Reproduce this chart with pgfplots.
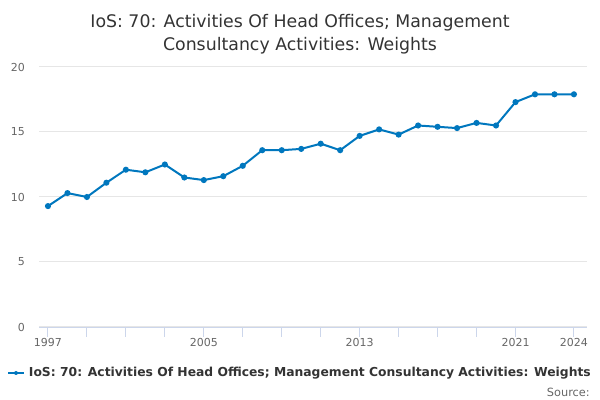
\documentclass[border=0pt]{standalone}
\usepackage{pgfplots}
\pgfplotsset{compat=1.18}
\usepackage{fontspec}
\setmainfont{DejaVu Sans}
\definecolor{series}{RGB}{0,119,190}
\definecolor{txt}{RGB}{51,51,51}
\definecolor{tick}{RGB}{102,102,102}
\definecolor{gridc}{RGB}{230,230,230}
\definecolor{axc}{RGB}{204,214,235}
\begin{document}
\begin{tikzpicture}[x=1pt,y=1pt]
\path[use as bounding box] (0,0) rectangle (450,300);
\begin{axis}[
  at={(29.25pt,54.75pt)}, anchor=south west,
  scale only axis, width=411pt, height=195pt,
  xmin=1996.54, xmax=2024.67, ymin=0, ymax=20,
  axis x line*=bottom, axis y line*=left,
  x axis line style={draw=axc,-},
  y axis line style={draw=none},
  xtick={1997,1999,2001,2003,2005,2007,2009,2011,2013,2015,2017,2019,2021,2024},
  xticklabels={1997,,,,2005,,,,2013,,,,2021,2024},
  ytick={0,5,10,15,20},
  ymajorgrids, grid style={draw=gridc, line width=0.75pt},
  x tick style={draw=axc, line width=0.75pt},
  xtick align=outside, major tick length=7.2pt,
  y tick style={draw=none},
  tick label style={font=\fontsize{8.25}{10}\selectfont, text=tick},
  /pgf/number format/assume math mode=true,
  /pgf/number format/1000 sep={},
  yticklabel style={xshift=-7pt},
  xticklabel style={yshift=2.5pt},
  clip=false,
]
\addplot[series, line width=1.5pt, mark=*, mark size=1.5pt, mark options={fill=series, draw=series}]
coordinates {
(1997,9.3)(1998,10.3)(1999,10.0)(2000,11.1)(2001,12.1)(2002,11.9)(2003,12.5)
(2004,11.5)(2005,11.3)(2006,11.6)(2007,12.4)(2008,13.6)(2009,13.6)(2010,13.7)
(2011,14.1)(2012,13.6)(2013,14.7)(2014,15.2)(2015,14.8)(2016,15.5)(2017,15.4)
(2018,15.3)(2019,15.7)(2020,15.5)(2021,17.3)(2022,17.9)(2023,17.9)(2024,17.9)
};
\end{axis}
\node[text=txt, font=\fontsize{13}{17}\selectfont, align=center] at (225,283) {IoS: 70: Activities Of Head Offices; Management};
\node[text=txt, font=\fontsize{13}{17}\selectfont, align=center] at (225,265.75) {Consultancy Activities: Weights};
\draw[series, line width=1.5pt] (6,20.25) -- (18,20.25);
\fill[series] (12,20.25) circle (1.5pt);
\node[anchor=west, text=txt, font=\bfseries\fontsize{9.25}{11}\selectfont, inner sep=0pt] at (21.5,20.25) {IoS: 70: Activities Of Head Offices; Management Consultancy Activities: Weights};
\node[anchor=east, text=tick, font=\fontsize{8.5}{10}\selectfont, inner sep=0pt] at (442.5,6) {Source:};
\end{tikzpicture}
\end{document}
